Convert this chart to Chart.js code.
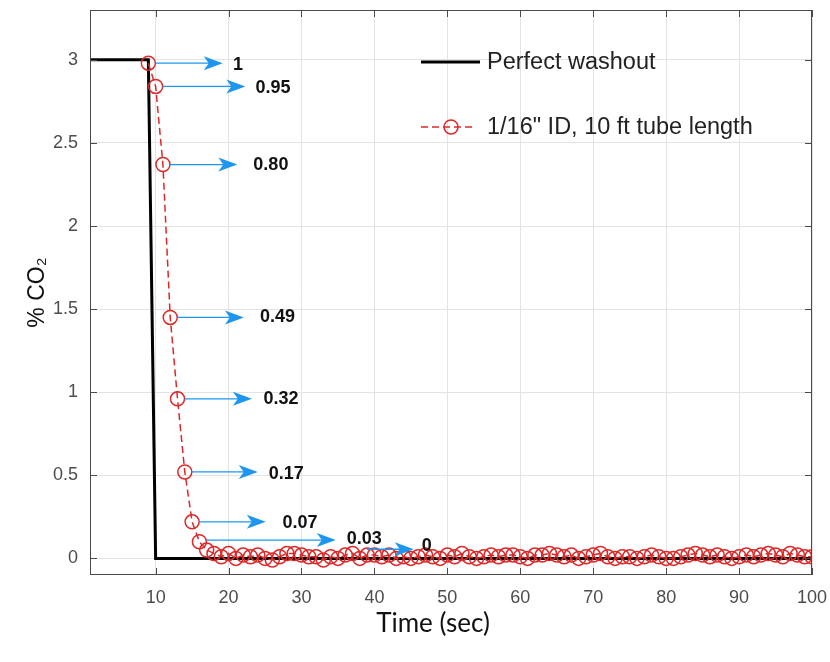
<!DOCTYPE html>
<html lang="en">
<head>
    <meta charset="UTF-8">
    <title>CO2 washout</title>
    <script src="https://cdn.jsdelivr.net/npm/chart.js"></script>
    <style>
        body {
            margin: 0;
            background: #ffffff;
        }
        #wrap {
            width: 830px;
            height: 662px;
        }
    </style>
</head>
<body>
    <div id="wrap">
        <canvas id="washoutChart" width="830" height="662"></canvas>
    </div>

    <script>
        // perfect washout step
        var idealTime = [1, 9, 10, 100];
        var idealCO2 = [3, 3, 0, 0];

        // measured, 1/16" ID 10 ft tube, one sample per second from t = 9 s
        var tubeTime = [];
        for (var t = 9; t <= 100; t++) tubeTime.push(t);
        var tubeCO2 = [
            2.98, 2.84, 2.37, 1.45, 0.96, 0.52, 0.22, 0.10, 0.05, 0.03,
            0.01, 0.03, 0.00, 0.02, 0.01, 0.02, 0.00, -0.01, 0.01, 0.03,
            0.03, 0.02, 0.01, 0.01, -0.01, 0.01, 0.00, 0.02, 0.03, 0.00,
            0.02, 0.02, 0.01, 0.02, 0.00, 0.01, 0.00, 0.01, 0.02, 0.01,
            0.00, 0.02, 0.01, 0.03, 0.01, 0.00, 0.01, 0.02, 0.01, 0.02,
            0.02, 0.01, 0.00, 0.02, 0.02, 0.03, 0.02, 0.01, 0.02, 0.00,
            0.01, 0.02, 0.03, 0.01, 0.00, 0.01, 0.01, 0.00, 0.01, 0.02,
            0.01, 0.00, 0.00, 0.01, 0.02, 0.03, 0.02, 0.01, 0.02, 0.01,
            0.00, 0.01, 0.02, 0.01, 0.02, 0.03, 0.02, 0.01, 0.03, 0.02,
            0.01, 0.01
        ];

        var xTicks = [10, 20, 30, 40, 50, 60, 70, 80, 90, 100];
        var yTicks = [0, 0.5, 1, 1.5, 2, 2.5, 3];

        // blue arrows and the fractions written after them
        var arrowFrom = [9, 10, 11, 12, 13, 14, 15, 16, 38];
        var arrowTo = [19.2, 22.3, 21.2, 22.1, 23.2, 24.0, 25.1, 34.7, 45.4];
        var arrowLevel = [2.98, 2.84, 2.37, 1.45, 0.96, 0.52, 0.22, 0.11, 0.055];
        var fracText = ['1', '0.95', '0.80', '0.49', '0.32', '0.17', '0.07', '0.03', '0'];
        var fracTime = [20.6, 23.7, 23.4, 24.3, 24.8, 25.5, 27.4, 36.2, 46.5];
        var fracLevel = [2.97, 2.83, 2.37, 1.45, 0.96, 0.51, 0.21, 0.115, 0.075];

        var legendNames = ['Perfect washout', '1/16" ID, 10 ft tube length'];
        var xTitle = 'Time (sec)';

        function pairs(xs, ys) {
            return xs.map(function (x, i) { return { x: x, y: ys[i] }; });
        }

        var axisColor = '#4a4a4a';
        var blue = 'rgb(30,150,240)';
        var red = 'rgb(222,40,40)';
        var helv = '"Liberation Sans", Arial, sans-serif';

        function drawArrow(ctx, x0, x1, y) {
            ctx.save();
            ctx.strokeStyle = blue;
            ctx.fillStyle = blue;
            ctx.lineWidth = 1.3;
            ctx.beginPath();
            ctx.moveTo(x0, y);
            ctx.lineTo(x1 - 12, y);
            ctx.stroke();
            ctx.beginPath();
            ctx.moveTo(x1, y);
            ctx.lineTo(x1 - 19, y - 7);
            ctx.lineTo(x1 - 14, y);
            ctx.lineTo(x1 - 19, y + 7);
            ctx.closePath();
            ctx.fill();
            ctx.restore();
        }

        var extrasPlugin = {
            id: 'extras',
            afterDatasetsDraw: function (chart) {
                var ctx = chart.ctx;
                var xs = chart.scales.x, ys = chart.scales.y;
                var a = chart.chartArea;

                // frame and inward ticks
                ctx.save();
                ctx.strokeStyle = axisColor;
                ctx.lineWidth = 1;
                ctx.strokeRect(a.left + 0.5, a.top + 0.5, a.right - a.left - 1, a.bottom - a.top - 1);
                ctx.beginPath();
                xTicks.forEach(function (v) {
                    var px = Math.round(xs.getPixelForValue(v)) + 0.5;
                    ctx.moveTo(px, a.bottom); ctx.lineTo(px, a.bottom - 7);
                    ctx.moveTo(px, a.top); ctx.lineTo(px, a.top + 7);
                });
                yTicks.forEach(function (v) {
                    var py = Math.round(ys.getPixelForValue(v)) + 0.5;
                    ctx.moveTo(a.left, py); ctx.lineTo(a.left + 7, py);
                    ctx.moveTo(a.right, py); ctx.lineTo(a.right - 7, py);
                });
                ctx.stroke();
                ctx.restore();

                // arrows + fractions
                arrowFrom.forEach(function (f, i) {
                    drawArrow(ctx, xs.getPixelForValue(f) + 7, xs.getPixelForValue(arrowTo[i]),
                        ys.getPixelForValue(arrowLevel[i]));
                });
                ctx.save();
                ctx.fillStyle = '#111';
                ctx.font = 'bold 18px ' + helv;
                ctx.textAlign = 'left';
                ctx.textBaseline = 'middle';
                fracText.forEach(function (s, i) {
                    ctx.fillText(s, xs.getPixelForValue(fracTime[i]), ys.getPixelForValue(fracLevel[i]));
                });
                ctx.restore();

                // legend inside the axes, top right
                ctx.save();
                ctx.font = '23.5px ' + helv;
                ctx.textBaseline = 'middle';
                ctx.fillStyle = '#222';
                ctx.strokeStyle = '#000';
                ctx.lineWidth = 3;
                ctx.beginPath();
                ctx.moveTo(421, 62); ctx.lineTo(480, 62);
                ctx.stroke();
                ctx.fillText(legendNames[0], 487, 63);
                ctx.strokeStyle = red;
                ctx.lineWidth = 1.5;
                ctx.setLineDash([7, 4]);
                ctx.beginPath();
                ctx.moveTo(421, 127); ctx.lineTo(476, 127);
                ctx.stroke();
                ctx.setLineDash([]);
                ctx.beginPath();
                ctx.arc(451, 127, 7, 0, Math.PI * 2);
                ctx.stroke();
                ctx.fillText(legendNames[1], 487, 128);
                ctx.restore();

                // x axis title (sits a bit left of the axes centre in the original)
                ctx.save();
                ctx.font = '26px Lato, "Open Sans", sans-serif';
                ctx.fillStyle = '#111';
                ctx.textAlign = 'center';
                ctx.textBaseline = 'middle';
                ctx.fillText(xTitle, 433, 624);
                ctx.restore();
            }
        };

        function noEdgePadding(s) {
            s.paddingTop = 0; s.paddingBottom = 0;
            s.paddingLeft = 0; s.paddingRight = 0;
        }

        var ctx = document.getElementById('washoutChart').getContext('2d');
        var washoutChart = new Chart(ctx, {
            type: 'scatter',
            data: {
                datasets: [
                    {
                        label: legendNames[0],
                        data: pairs(idealTime, idealCO2),
                        showLine: true,
                        borderColor: '#000',
                        borderWidth: 3,
                        pointRadius: 0,
                        order: 2
                    },
                    {
                        label: legendNames[1],
                        data: pairs(tubeTime, tubeCO2),
                        showLine: true,
                        borderColor: red,
                        borderWidth: 1.5,
                        borderDash: [7, 4],
                        pointRadius: 7,
                        pointBorderWidth: 1.5,
                        pointBorderColor: red,
                        pointBackgroundColor: 'rgba(0,0,0,0)',
                        order: 1
                    }
                ]
            },
            options: {
                responsive: false,
                animation: false,
                layout: { padding: { top: 10, right: 18, left: 0, bottom: 0 } },
                plugins: {
                    legend: { display: false },
                    tooltip: { enabled: false }
                },
                scales: {
                    x: {
                        type: 'linear',
                        min: 1,
                        max: 100,
                        afterBuildTicks: function (s) { s.ticks = xTicks.map(function (v) { return { value: v }; }); },
                        afterFit: function (s) { s.height = 87; noEdgePadding(s); },
                        grid: { color: '#e3e3e3', drawTicks: false },
                        border: { display: false },
                        ticks: {
                            padding: 12,
                            color: '#4d4d4d',
                            font: { family: helv, size: 18 },
                            callback: function (v) { return String(v); }
                        }
                    },
                    y: {
                        type: 'linear',
                        min: -0.1,
                        max: 3.3,
                        afterBuildTicks: function (s) { s.ticks = yTicks.map(function (v) { return { value: v }; }); },
                        afterFit: function (s) { s.width = 90; noEdgePadding(s); },
                        grid: { color: '#e3e3e3', drawTicks: false },
                        border: { display: false },
                        ticks: {
                            padding: 12,
                            color: '#4d4d4d',
                            font: { family: helv, size: 18 },
                            callback: function (v) { return String(v); }
                        },
                        title: {
                            display: true,
                            text: '% CO₂',
                            color: '#111',
                            font: { family: helv, size: 23 },
                            padding: { top: 24, bottom: 0 }
                        }
                    }
                }
            },
            plugins: [extrasPlugin]
        });
    </script>
</body>
</html>
